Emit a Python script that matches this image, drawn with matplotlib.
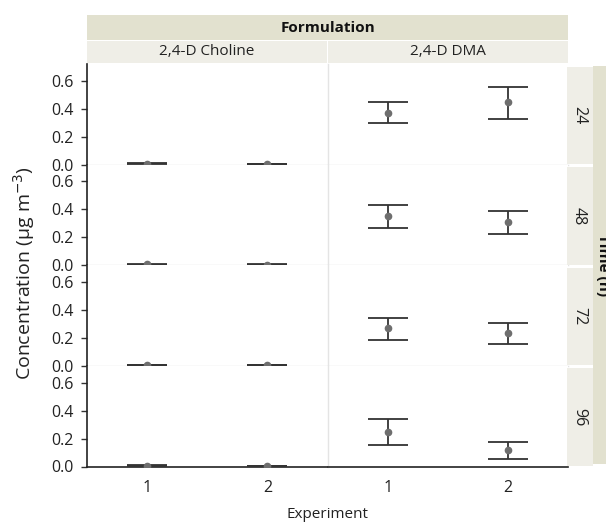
import matplotlib
matplotlib.use("Agg")
import matplotlib.pyplot as plt
from matplotlib.patches import Rectangle
import numpy as np

plt.rcParams['font.family'] = ['Open Sans', 'DejaVu Sans']

times = ['24', '48', '72', '96']
formulations = ['2,4-D Choline', '2,4-D DMA']
experiments = [1, 2]

# mean, lower, upper per time (rows) and experiment (cols)
choline_mean = [[0.007, 0.006], [0.006, 0.005], [0.006, 0.006], [0.006, 0.005]]
choline_low = [[0.004, 0.004], [0.004, 0.003], [0.004, 0.004], [0.003, 0.003]]
choline_up = [[0.009, 0.008], [0.008, 0.007], [0.008, 0.008], [0.008, 0.007]]

dma_mean = [[0.370, 0.445], [0.350, 0.310], [0.268, 0.235], [0.250, 0.118]]
dma_low = [[0.300, 0.330], [0.265, 0.225], [0.185, 0.157], [0.155, 0.055]]
dma_up = [[0.445, 0.555], [0.430, 0.390], [0.345, 0.310], [0.337, 0.174]]

W, H = 606, 523
fig = plt.figure(figsize=(W / 100, H / 100), dpi=100)

L, R, T, B = 87, 568, 64, 466.5
gs = fig.add_gridspec(4, 2, left=L / W, right=R / W, top=1 - T / H, bottom=1 - B / H,
                      wspace=0, hspace=0)

sep = '#e4e4e4'
for r in range(4):
    for c in range(2):
        ax = fig.add_subplot(gs[r, c])
        if c == 0:
            m, lo, up = choline_mean[r], choline_low[r], choline_up[r]
        else:
            m, lo, up = dma_mean[r], dma_low[r], dma_up[r]
        m = np.array(m); lo = np.array(lo); up = np.array(up)
        ax.errorbar(experiments, m, yerr=[m - lo, up - m], fmt='o', color='#6e6e6e',
                    markersize=4.5, ecolor='#333333', elinewidth=1.3, capsize=14.4,
                    capthick=1.3, zorder=3)
        ax.set_xlim(0.5, 2.5)
        ax.set_ylim(0, 0.72)
        ax.spines['top'].set_visible(False)
        ax.spines['right'].set_visible(False)
        if c == 0:
            ax.spines['left'].set_color('#222222')
            ax.spines['left'].set_linewidth(1.2)
            ax.set_yticks([0.0, 0.2, 0.4, 0.6])
            ax.set_yticklabels(['0.0', '0.2', '0.4', '0.6'])
            ax.tick_params(axis='y', length=4.5, width=1, color='#333333', labelsize=11.5,
                           pad=5, labelcolor='#222222')
        else:
            ax.spines['left'].set_color(sep)
            ax.spines['left'].set_linewidth(1)
            ax.set_yticks([])
        if r == 3:
            ax.spines['bottom'].set_color('#222222')
            ax.spines['bottom'].set_linewidth(1.2)
            ax.set_xticks(experiments)
            ax.set_xticklabels([str(e) for e in experiments])
            ax.tick_params(axis='x', length=0, labelsize=11.5, pad=10, labelcolor='#222222')
        else:
            ax.spines['bottom'].set_color(sep)
            ax.spines['bottom'].set_linewidth(1)
            ax.set_xticks([])

def frect(x0, y0, x1, y1, color):
    fig.patches.append(Rectangle((x0 / W, 1 - y1 / H), (x1 - x0) / W, (y1 - y0) / H,
                                 transform=fig.transFigure, facecolor=color,
                                 edgecolor='none', zorder=0))

dark = '#e2e1cf'
light = '#efeee7'
# top strips
frect(87, 15, 568, 40, dark)
fig.text((87 + 568) / 2 / W, 1 - 27.5 / H, 'Formulation', ha='center', va='center',
         fontsize=11, fontweight='bold', color='#111111')
frect(87, 40.5, 326.5, 63, light)
frect(328, 40.5, 568, 63, light)
fig.text((87 + 327) / 2 / W, 1 - 51.5 / H, formulations[0], ha='center', va='center',
         fontsize=11, color='#222222')
fig.text((328 + 568) / 2 / W, 1 - 51.5 / H, formulations[1], ha='center', va='center',
         fontsize=11, color='#222222')

# right strips
rowh = (B - T) / 4
frect(593, 66, 606, 464, dark)
for i, t in enumerate(times):
    y0 = T + i * rowh + 2.5
    y1 = T + (i + 1) * rowh - 0.5
    frect(567, y0, 593, y1, light)
    fig.text(579 / W, 1 - (y0 + y1) / 2 / H, t, ha='center', va='center',
             rotation=-90, fontsize=11.5, color='#222222')
fig.text(603 / W, 1 - 265 / H, 'Time (h)', ha='center', va='center', rotation=-90,
         fontsize=11, fontweight='bold', color='#111111')

fig.text(24 / W, 1 - 273 / H, r'Concentration (μg m$^{-3}$)', ha='center', va='center',
         rotation=90, fontsize=14, color='#222222')
fig.text(327 / W, 1 - 514 / H, 'Experiment', ha='center', va='center', fontsize=11,
         color='#222222')

fig.savefig('out.png', dpi=100)
